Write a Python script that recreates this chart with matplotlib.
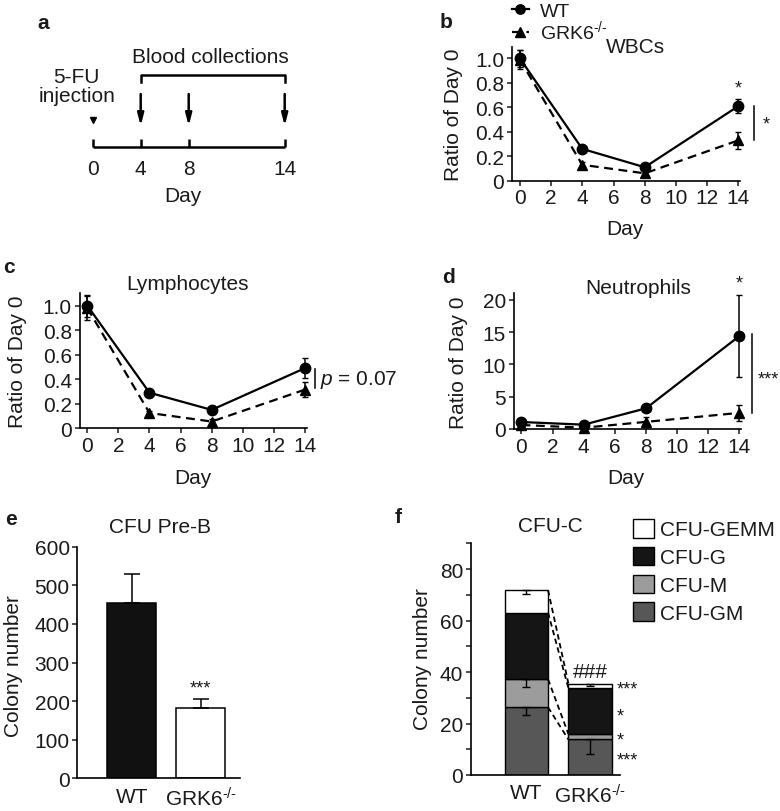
import matplotlib
matplotlib.use('Agg')
import matplotlib.pyplot as plt
import numpy as np

plt.rcParams['font.family'] = ['Liberation Sans', 'DejaVu Sans']
plt.rcParams['mathtext.fontset'] = 'custom'
plt.rcParams['mathtext.rm'] = 'Liberation Sans'
plt.rcParams['mathtext.it'] = 'Liberation Sans:italic'
plt.rcParams['mathtext.default'] = 'regular'
plt.rcParams['axes.linewidth'] = 1.2
plt.rcParams['text.color'] = '#1a1a1a'

# ---------------- data ----------------
sched_days = [0, 4, 8, 14]
collect_days = [4, 8, 14]

days = [0, 4, 8, 14]
day_ticks = [0, 2, 4, 6, 8, 10, 12, 14]

wbc_wt = [1.0, 0.26, 0.11, 0.61]
wbc_wt_err = [0.07, 0.015, 0.02, 0.055]
wbc_ko = [0.99, 0.13, 0.06, 0.33]
wbc_ko_err = [0.08, 0.02, 0.02, 0.07]

lym_wt = [1.0, 0.29, 0.15, 0.49]
lym_wt_err = [0.09, 0.02, 0.02, 0.08]
lym_ko = [0.98, 0.125, 0.055, 0.315]
lym_ko_err = [0.10, 0.02, 0.02, 0.06]

neu_wt = [1.08, 0.67, 3.2, 14.4]
neu_wt_err = [0.3, 0.2, 0.4, 6.4]
neu_ko = [0.62, 0.2, 1.1, 2.5]
neu_ko_err = [0.2, 0.1, 0.8, 1.2]

ratio_ticks = [0, 0.2, 0.4, 0.6, 0.8, 1.0]
ratio_labels = ['0', '0.2', '0.4', '0.6', '0.8', '1.0']
neu_ticks = [0, 5, 10, 15, 20]

ko_label = 'GRK6$^{\\text{-/-}}$'
groups = ['WT', ko_label]
preb = [455, 182]
preb_err = [73, 23]
preb_ticks = [0, 100, 200, 300, 400, 500, 600]

cfu_types = ['CFU-GM', 'CFU-M', 'CFU-G', 'CFU-GEMM']
cfu_wt = [26.3, 10.9, 25.9, 8.7]
cfu_ko = [13.8, 2.1, 17.8, 1.8]
cfu_wt_err = [3.0, 3.2, 0.0, 1.3]
cfu_ko_err = [5.6, 0.0, 0.0, 0.8]
cfu_colors = ['#575757', '#9c9c9c', '#151515', 'white']
cfu_ticks = [0, 10, 20, 30, 40, 50, 60, 70, 80, 90]
cfu_tick_labels = ['0', '', '20', '', '40', '', '60', '', '80', '']
cfu_stars = ['***', '*', '*', '***']
cfu_star_y = [7.0, 14.5, 24.0, 34.5]

W, H = 780, 812
fig = plt.figure(figsize=(W / 100, H / 100), dpi=100)


def rect(l, t, r, b):
    return [l / W, 1 - b / H, (r - l) / W, (b - t) / H]


def ftext(x, y, s, **kw):
    kw.setdefault('fontsize', 15)
    return fig.text(x / W, 1 - y / H, s, **kw)


FS = 15

# ---------------- panel a (schematic) ----------------
def fwd(d):
    d = np.asarray(d, float)
    return np.where(d <= 8, d, 8 + (d - 8) * 8 / 6)


def inv(p):
    p = np.asarray(p, float)
    return np.where(p <= 8, p, 8 + (p - 8) * 6 / 8)


axa = fig.add_axes([0, 1 - 250 / H, 390 / W, 250 / H])
axa.set_xscale('function', functions=(fwd, inv))
axa.set_xlim(-7.725, float(inv(24.775)))
axa.set_ylim(250, 0)
axa.axis('off')
axa.hlines(147.7, sched_days[0], sched_days[-1], color='k', lw=1.8)
axa.vlines(sched_days, 139.5, 147.7, color='k', lw=1.8)
for d in sched_days:
    axa.text(d, 175, str(d), ha='center', va='baseline', fontsize=FS)
axa.text(7.5, 201.7, 'Day', ha='center', va='baseline', fontsize=FS)
for d in collect_days:
    axa.annotate('', xy=(d, 127), xytext=(d, 95),
                 arrowprops=dict(arrowstyle='-|>,head_length=0.7,head_width=0.18',
                                 color='k', lw=1.8, shrinkA=0, shrinkB=0))
axa.plot([sched_days[0]], [121], marker='v', color='k', ms=4.5)
axa.plot([collect_days[0], collect_days[0], collect_days[-1], collect_days[-1]],
         [82.7, 76, 76, 82.7], color='k', lw=1.8)
axa.text(9.37, 63.3, 'Blood collections', ha='center', va='baseline', fontsize=FS)
axa.text(-1.33, 83, '5-FU', ha='center', va='baseline', fontsize=FS)
axa.text(-1.33, 102, 'injection', ha='center', va='baseline', fontsize=FS)


# ---------------- line panels ----------------
def style(ax):
    for s in ['top', 'right']:
        ax.spines[s].set_visible(False)
    ax.tick_params(direction='out', length=3.5, width=1.1, labelsize=FS, pad=2,
                   colors='#1a1a1a')


def line_panel(ax, wt, wte, ko, koe, ylim, yt, ytl):
    l1, = ax.plot(days, wt, '-o', color='k', lw=1.6, ms=7.5, clip_on=False, zorder=4)
    l2, = ax.plot(days, ko, '--^', color='k', lw=1.6, ms=7.5, dashes=(4, 2.5),
                  clip_on=False, zorder=3)
    ax.errorbar(days, wt, yerr=wte, fmt='none', ecolor='k', elinewidth=1.1,
                capsize=2, clip_on=False, zorder=5)
    ax.errorbar(days, ko, yerr=koe, fmt='none', ecolor='k', elinewidth=1.1,
                capsize=2, clip_on=False, zorder=5)
    ax.set_xlim(-0.5, 14.1)
    ax.set_xticks(day_ticks)
    ax.set_ylim(*ylim)
    ax.set_yticks(yt)
    ax.set_yticklabels(ytl)
    style(ax)
    return l1, l2


# b
axb = fig.add_axes(rect(512, 48.3, 740, 181.7))
lw_, lk_ = line_panel(axb, wbc_wt, wbc_wt_err, wbc_ko, wbc_ko_err, (0, 1.09),
                      ratio_ticks, ratio_labels)
axb.text(14, 0.76, '*', ha='center', va='center', fontsize=13)
axb.plot([15, 15], [0.61, 0.335], color='k', lw=1.1, clip_on=False)
axb.text(15.8, 0.46, '*', ha='center', va='center', fontsize=13)
fig.legend([lw_, lk_], ['WT', ko_label], loc='upper left',
           bbox_to_anchor=(512 / W, 1 - 3 / H), frameon=False, fontsize=14,
           handlelength=0.85, handletextpad=0.6, borderpad=0, borderaxespad=0,
           labelspacing=-0.05, markerscale=0.9)
ftext(635, 52.7, 'WBCs', ha='center', va='baseline')
ftext(625, 235, 'Day', ha='center', va='baseline')
ftext(453, 115, 'Ratio of Day 0', ha='center', va='center', rotation=90)

# c
axc = fig.add_axes(rect(79.5, 294.3, 306.5, 429.3))
line_panel(axc, lym_wt, lym_wt_err, lym_ko, lym_ko_err, (0, 1.10),
           ratio_ticks, ratio_labels)
axc.plot([14.67, 14.67], [0.484, 0.326], color='k', lw=1.1, clip_on=False)
axc.text(14.96, 0.405, '$\\mathit{p}$ = 0.07', ha='left', va='center', fontsize=FS)
ftext(188, 290, 'Lymphocytes', ha='center', va='baseline')
ftext(193, 484, 'Day', ha='center', va='baseline')
ftext(18, 362, 'Ratio of Day 0', ha='center', va='center', rotation=90)

# d
axd = fig.add_axes(rect(513.7, 294.3, 741, 430))
line_panel(axd, neu_wt, neu_wt_err, neu_ko, neu_ko_err, (0, 21),
           neu_ticks, [str(t) for t in neu_ticks])
axd.text(14, 22.6, '*', ha='center', va='center', fontsize=13)
axd.plot([14.8, 14.8], [14.7, 2.47], color='k', lw=1.1, clip_on=False)
axd.text(15.86, 7.8, '***', ha='center', va='center', fontsize=13)
ftext(638, 294, 'Neutrophils', ha='center', va='baseline')
ftext(626, 484, 'Day', ha='center', va='baseline')
ftext(458, 363, 'Ratio of Day 0', ha='center', va='center', rotation=90)

# ---------------- panel e ----------------
axe = fig.add_axes(rect(77.3, 547.7, 240, 779.3))
xg = np.arange(len(groups))
axe.bar(xg, preb, width=0.71, color=['#111111', 'white'], edgecolor='k', lw=1.1)
axe.errorbar(xg, preb, yerr=[[0, 0], preb_err], fmt='none', ecolor='k',
             elinewidth=1.1, capsize=6, capthick=1.1)
axe.set_xlim(-0.79, 1.57)
axe.set_ylim(0, 600)
axe.set_yticks(preb_ticks)
axe.set_xticks(xg)
axe.set_xticklabels(groups)
style(axe)
axe.tick_params(axis='x', length=0, pad=6)
axe.text(1, preb[1] + preb_err[1] + 30, '***', ha='center', va='center', fontsize=13)
ftext(160, 533.3, 'CFU Pre-B', ha='center', va='baseline')
ftext(13.3, 665.7, 'Colony number', ha='center', va='center', rotation=90)

# ---------------- panel f ----------------
axf = fig.add_axes(rect(471, 544.3, 620, 776))
bw = 0.68
bottoms = np.zeros(2)
cum_tops = []
handles = []
for i, name in enumerate(cfu_types):
    vals = np.array([cfu_wt[i], cfu_ko[i]])
    bc = axf.bar(xg, vals, width=bw, bottom=bottoms, color=cfu_colors[i],
                 edgecolor='k', lw=1.0, label=name, zorder=2)
    handles.append(bc)
    tops = bottoms + vals
    errs = np.array([cfu_wt_err[i], cfu_ko_err[i]])
    m = errs > 0
    axf.errorbar(xg[m], tops[m], yerr=[errs[m], np.zeros(m.sum())], fmt='none',
                 ecolor='k', elinewidth=1.0, capsize=3, capthick=1.0, zorder=3)
    cum_tops.append(tops)
    bottoms = tops
for tops in cum_tops:
    axf.plot([xg[0] + bw / 2, xg[1] - bw / 2], [tops[0], tops[1]], color='k',
             lw=1.3, dashes=(3, 2), zorder=3)
for y, s in zip(cfu_star_y, cfu_stars):
    axf.text(1.42, y - 1.0, s, ha='left', va='center', fontsize=13, clip_on=False)
axf.text(1, cum_tops[-1][1] + 1.0, '###', ha='center', va='bottom', fontsize=FS)
axf.set_xlim(-0.87, 1.47)
axf.set_ylim(0, 90)
axf.set_yticks(cfu_ticks)
axf.set_yticklabels(cfu_tick_labels)
axf.set_xticks(xg)
axf.set_xticklabels(groups)
style(axf)
axf.tick_params(axis='x', length=0, pad=6)
fig.legend(handles[::-1], cfu_types[::-1], loc='upper left',
           bbox_to_anchor=(633 / W, 1 - 520 / H), frameon=False, fontsize=FS,
           handlelength=1.0, handleheight=1.0, handletextpad=0.3, borderpad=0,
           borderaxespad=0, labelspacing=0.35)
ftext(550, 531.7, 'CFU-C', ha='center', va='baseline')
ftext(422, 659, 'Colony number', ha='center', va='center', rotation=90)

# ---------------- panel letters ----------------
for (x, y, s) in [(37, 29.3, 'a'), (440, 28.3, 'b'), (3, 273, 'c'),
                  (442, 282.7, 'd'), (5, 525, 'e'), (395, 522.7, 'f')]:
    ftext(x, y, s, ha='left', va='baseline', fontweight='bold')

fig.savefig('out.png', dpi=100)
